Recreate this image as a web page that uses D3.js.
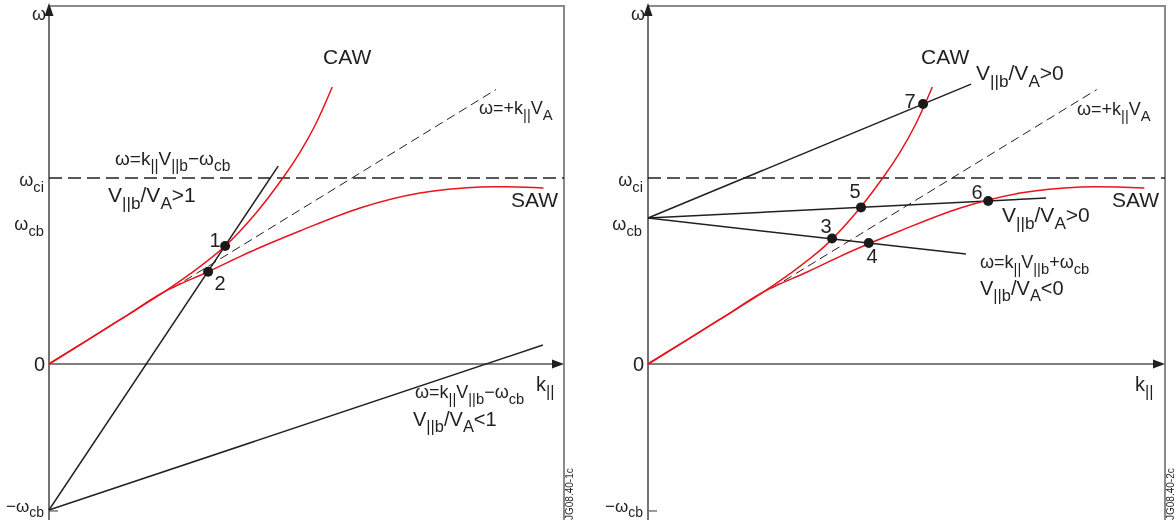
<!DOCTYPE html>
<html><head><meta charset="utf-8">
<script src="https://cdn.jsdelivr.net/npm/d3@7"></script>
<style>body{margin:0;background:#fff}svg{display:block}text{font-family:"Liberation Sans",Arial,sans-serif;fill:#231f20}.lbl{will-change:transform;opacity:0.999}</style>
</head><body><svg id="c" width="1176" height="520"></svg>
<script>
// ---- data (k in normalised units, omega in units of omega_ci) ----
const wci = 1.0;
const wcb = 0.785;
const cawK = [0, 0.138, 0.225, 0.274, 0.342, 0.400, 0.454, 0.487, 0.517, 0.550];
const cawW = [0, 0.238, 0.390, 0.484, 0.634, 0.805, 1.0, 1.137, 1.285, 1.489];
const sawK = [0, 0.138, 0.225, 0.309, 0.390, 0.487, 0.604, 0.720, 0.837, 0.960];
const sawW = [0, 0.238, 0.390, 0.496, 0.602, 0.715, 0.839, 0.919, 0.952, 0.946];
const alfvenK = [0.24, 0.868];             // dashed omega = +k V_A
const alfvenSlope = 1.70;
// left panel beam lines: omega = k V_b - omega_cb
const leftLineSlopes = [4.155, 0.925];
const leftLineKend = [0.445, 0.959];
const leftPtsK = [0.342, 0.309];
const leftPtsW = [0.634, 0.496];
const leftPtsLbl = ["1", "2"];
// right panel beam lines: omega = k V_b + omega_cb
const rightLineSlopes = [1.152, 0.139, -0.315];
const rightLineKend = [0.625, 0.770, 0.615];
const rightPtsK = [0.356, 0.427, 0.412, 0.658, 0.532];
const rightPtsW = [0.675, 0.651, 0.842, 0.876, 1.398];
const rightPtsLbl = ["3", "4", "5", "6", "7"];

const svg = d3.select("#c");
svg.append("rect").attr("width",1176).attr("height",520).attr("fill","#fff");
const y = d3.scaleLinear().domain([0, 1]).range([364, 178]);

function rich(g, x, yb, parts, size, anchor) {
  const t = g.append("text").attr("class", "lbl").attr("x", x).attr("y", yb).attr("font-size", size)
    .attr("text-anchor", anchor || "start");
  let inSub = false;
  parts.forEach(p => {
    const s = Array.isArray(p);
    const txt = s ? p[0] : p;
    const ts = t.append("tspan").text(txt);
    if (s && !inSub) { ts.attr("dy", size * 0.32); inSub = true; }
    else if (!s && inSub) { ts.attr("dy", -size * 0.32); inSub = false; }
    if (s) ts.attr("font-size", size * 0.82);
  });
  return t;
}

function panel(x0, x1, side) {
  const x = d3.scaleLinear().domain([0, 1]).range([x0, x1]);
  const g = svg.append("g");
  const line = d3.line().x(d => x(d[0])).y(d => y(d[1])).curve(d3.curveCatmullRom.alpha(0.5));
  // frame
  g.append("line").attr("x1", x0).attr("x2", x1).attr("y1", 6).attr("y2", 6).attr("stroke", "#8a8a8a").attr("stroke-width", 2);
  g.append("line").attr("x1", x1).attr("x2", x1).attr("y1", 5).attr("y2", 520).attr("stroke", "#8a8a8a").attr("stroke-width", 2);
  // axes
  g.append("line").attr("x1", x0).attr("x2", x0).attr("y1", 10).attr("y2", 520).attr("stroke", "#444").attr("stroke-width", 1.5);
  g.append("line").attr("x1", x0).attr("x2", x1 - 8).attr("y1", y(0)).attr("y2", y(0)).attr("stroke", "#555").attr("stroke-width", 1.5);
  g.append("path").attr("d", `M${x0},3 L${x0-4.5},16 L${x0+4.5},16 Z`).attr("fill", "#231f20");
  g.append("path").attr("d", `M${x1},${y(0)} L${x1-12},${y(0)-4.5} L${x1-12},${y(0)+4.5} Z`).attr("fill", "#231f20");
  // -omega_cb tick
  g.append("line").attr("x1", x0).attr("x2", x0 + 9).attr("y1", y(-wcb - 0.005)).attr("y2", y(-wcb - 0.005)).attr("stroke", "#777").attr("stroke-width", 1.5);
  // omega_ci dashed
  g.append("line").attr("x1", x0).attr("x2", x1).attr("y1", y(wci)).attr("y2", y(wci))
    .attr("stroke", "#231f20").attr("stroke-width", 1.5).attr("stroke-dasharray", "13,6");
  // Alfven dashed
  g.append("line").attr("x1", x(alfvenK[0])).attr("y1", y(alfvenK[0] * alfvenSlope))
    .attr("x2", x(alfvenK[1])).attr("y2", y(alfvenK[1] * alfvenSlope))
    .attr("stroke", "#231f20").attr("stroke-width", 1).attr("stroke-dasharray", "9,5");
  // beam lines
  if (side === "L") {
    leftLineSlopes.forEach((s, i) => {
      g.append("line").attr("x1", x(0)).attr("y1", y(-wcb)).attr("x2", x(leftLineKend[i])).attr("y2", y(-wcb + s * leftLineKend[i]))
        .attr("stroke", "#231f20").attr("stroke-width", 1.5);
    });
  } else {
    rightLineSlopes.forEach((s, i) => {
      g.append("line").attr("x1", x(0)).attr("y1", y(wcb)).attr("x2", x(rightLineKend[i])).attr("y2", y(wcb + s * rightLineKend[i]))
        .attr("stroke", "#231f20").attr("stroke-width", 1.5);
    });
  }
  // dispersion curves
  g.append("path").attr("d", line(d3.zip(cawK, cawW))).attr("fill", "none").attr("stroke", "#e8141c").attr("stroke-width", 1.5);
  g.append("path").attr("d", line(d3.zip(sawK, sawW))).attr("fill", "none").attr("stroke", "#e8141c").attr("stroke-width", 1.5);
  // points
  const pk = side === "L" ? leftPtsK : rightPtsK, pw = side === "L" ? leftPtsW : rightPtsW;
  pk.forEach((k, i) => g.append("circle").attr("cx", x(k)).attr("cy", y(pw[i])).attr("r", 5).attr("fill", "#1a1a1a"));
  // axis labels
  rich(g, x0 - 3, 20, ["ω"], 18, "end");
  rich(g, x0 - 5, 186, ["ω", ["ci"]], 18, "end");
  rich(g, x0 - 4, 371, ["0"], 20, "end");
  rich(g, x0 - 5, 512, ["−ω", ["cb"]], 17, "end");
  g.append("text").attr("class", "lbl").attr("transform", `translate(${x1 + 9},520) rotate(-90)`).attr("font-size", 10).attr("fill", "#444")
    .text(side === "L" ? "JG08.40-1c" : "JG08.40-2c");
  return {g, x};
}

// left panel
const L = panel(49, 564, "L");
rich(L.g, 44, 230, ["ω", ["cb"]], 18, "end");
rich(L.g, 323, 64, ["CAW"], 21);
rich(L.g, 511, 207, ["SAW"], 21);
rich(L.g, 479, 114, ["ω=+k", ["||"], "V", ["A"]], 18);
rich(L.g, 115, 165, ["ω=k", ["||"], "V", ["||b"], "−ω", ["cb"]], 19);
rich(L.g, 108, 202, ["V", ["||b"], "/V", ["A"], ">1"], 21);
rich(L.g, 415, 398, ["ω=k", ["||"], "V", ["||b"], "−ω", ["cb"]], 18);
rich(L.g, 413, 426, ["V", ["||b"], "/V", ["A"], "<1"], 20);
rich(L.g, 536, 391, ["k", ["||"]], 20);
rich(L.g, 215, 247, [leftPtsLbl[0]], 20, "middle");
rich(L.g, 220, 290, [leftPtsLbl[1]], 20, "middle");

// right panel
const R = panel(648, 1165, "R");
rich(R.g, 642, 230, ["ω", ["cb"]], 18, "end");
rich(R.g, 921, 64, ["CAW"], 21);
rich(R.g, 1112, 207, ["SAW"], 21);
rich(R.g, 1077, 115, ["ω=+k", ["||"], "V", ["A"]], 18);
rich(R.g, 976, 80, ["V", ["||b"], "/V", ["A"], ">0"], 21);
rich(R.g, 1002, 222, ["V", ["||b"], "/V", ["A"], ">0"], 21);
rich(R.g, 980, 268, ["ω=k", ["||"], "V", ["||b"], "+ω", ["cb"]], 18);
rich(R.g, 980, 295, ["V", ["||b"], "/V", ["A"], "<0"], 20);
rich(R.g, 1135, 391, ["k", ["||"]], 20);
const rLblPos = [[826, 233], [872, 263], [855, 198], [977, 199], [910, 108]];
rightPtsLbl.forEach((t, i) => rich(R.g, rLblPos[i][0], rLblPos[i][1], [t], 20, "middle"));
</script></body></html>
